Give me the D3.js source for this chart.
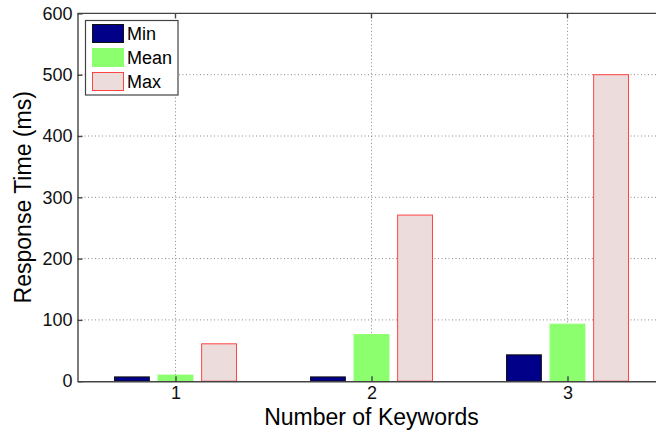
<!DOCTYPE html>
<html><head><meta charset="utf-8">
<script src="https://cdn.jsdelivr.net/npm/d3@7"></script>
<style>body{margin:0;background:#fff}svg{display:block}text{font-family:"Liberation Sans",Arial,sans-serif}</style>
</head><body><svg id="c" width="656" height="430"></svg>
<script>
const categories = [1, 2, 3];
const seriesNames = ["Min", "Mean", "Max"];
const minValues = [7, 7, 43];
const meanValues = [10, 76, 93];
const maxValues = [61, 271, 500];
const yTicks = [0, 100, 200, 300, 400, 500, 600];
const fills = ["#000088", "#8cff6e", "#eddcdc"];
const strokes = ["#111111", "#8cff6e", "#ff4444"];

const series = [minValues, meanValues, maxValues];
const svg = d3.select("#c");
const L = 77.5, R = 665.5, T = 13.4, B = 381.2;
const x = d3.scaleLinear().domain([0.5, 3.5]).range([L, R]);
const y = d3.scaleLinear().domain([0, 600]).range([B, T]);
const step = 2/9, bw = step*0.8;

// grid
const g = svg.append("g");
g.selectAll(".gy").data(yTicks.slice(1, -1)).join("line")
  .attr("x1", L).attr("x2", R).attr("y1", d=>y(d)).attr("y2", d=>y(d))
  .attr("stroke", "#888").attr("stroke-width", 1).attr("stroke-dasharray", "1,2.5");
g.selectAll(".gx").data(categories).join("line")
  .attr("x1", d=>x(d)).attr("x2", d=>x(d)).attr("y1", T).attr("y2", B)
  .attr("stroke", "#888").attr("stroke-width", 1).attr("stroke-dasharray", "1,2.5");

// bars
series.forEach((vals, si) => {
  svg.append("g").selectAll("rect").data(vals).join("rect")
    .attr("x", (d,i)=>x(categories[i] + (si-1)*step - bw/2))
    .attr("width", x(bw) - x(0))
    .attr("y", d=>y(d)).attr("height", d=>y(0)-y(d))
    .attr("fill", fills[si]).attr("stroke", strokes[si]).attr("stroke-width", 1);
});

// axes
const axisColor = "#444";
const ax = svg.append("g").attr("transform", `translate(0,${B})`)
  .call(d3.axisBottom(x).tickValues(categories).tickFormat(d3.format("d")).tickSizeInner(-5).tickSizeOuter(0).tickPadding(5.5));
const ay = svg.append("g").attr("transform", `translate(${L},0)`)
  .call(d3.axisLeft(y).tickValues(yTicks).tickSizeInner(-5).tickSizeOuter(0).tickPadding(5));
[ax, ay].forEach(a => {
  a.selectAll("path,line").attr("stroke", axisColor).attr("stroke-width", 1.4);
  a.selectAll("text").attr("font-size", 18).attr("fill", "#111")
    .style("font-family", '"Liberation Sans",Arial,sans-serif');
});
// top box + top ticks
svg.append("line").attr("x1", L).attr("x2", R).attr("y1", T).attr("y2", T).attr("stroke", axisColor).attr("stroke-width", 1.4);
svg.append("g").selectAll("line").data(categories).join("line")
  .attr("x1", d=>x(d)).attr("x2", d=>x(d)).attr("y1", T).attr("y2", T+5).attr("stroke", axisColor).attr("stroke-width", 1.4);

// labels
svg.append("text").attr("x", (L+R)/2).attr("y", 425).attr("text-anchor", "middle")
  .attr("font-size", 23).attr("fill", "#000").text("Number of Keywords");
svg.append("text").attr("transform", `translate(31,${(T+B)/2}) rotate(-90)`).attr("text-anchor", "middle")
  .attr("font-size", 23).attr("fill", "#000").text("Response Time (ms)");

// legend
const lg = svg.append("g");
lg.append("rect").attr("x", 85.5).attr("y", 20.5).attr("width", 92.5).attr("height", 74.5)
  .attr("fill", "#fff").attr("stroke", axisColor).attr("stroke-width", 1.2);
seriesNames.forEach((n, i) => {
  const yy = 24 + i*24;
  lg.append("rect").attr("x", 92.5).attr("y", yy + 0.5).attr("width", 31).attr("height", 18)
    .attr("fill", fills[i]).attr("stroke", strokes[i]).attr("stroke-width", 1);
  lg.append("text").attr("x", 127).attr("y", yy + 16).attr("font-size", 18).attr("fill", "#000").text(n);
});
</script></body></html>
